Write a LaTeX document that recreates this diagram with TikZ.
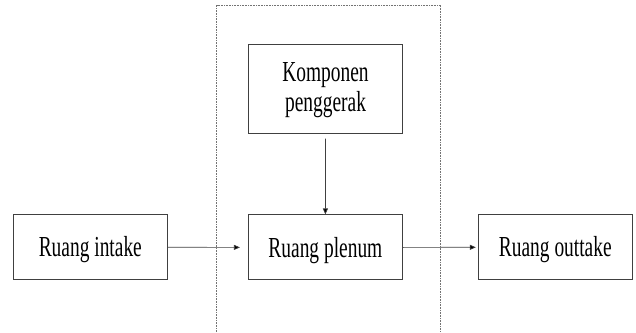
\documentclass[tikz,border=0pt]{standalone}
\usepackage{fontspec}
\newfontfamily\boxfont{Liberation Serif}[FakeStretch=0.67]
\usetikzlibrary{arrows.meta}
\begin{document}
\begin{tikzpicture}[x=1pt,y=1pt,
  stagebox/.style={draw=black!75, line width=0.9pt, rectangle, inner sep=0pt,
    minimum width=154pt, minimum height=65pt,
    font=\boxfont\fontsize{29}{30}\selectfont,
    text height=19.2pt, text depth=0pt},
  flow/.style={draw=black!75, line width=0.7pt,
    -{Triangle[length=6pt,width=5pt,fill=black]}},
  frame/.style={draw=black!55, line width=0.8pt, dash pattern=on 0.8pt off 0.8pt}]
  \useasboundingbox (0,0) rectangle (636,332);

  % dotted enclosure around the plenum stage (open at the bottom)
  \coordinate (frameBL) at (216.7,0);
  \coordinate (frameTL) at (216.7,327);
  \coordinate (frameTR) at (440.7,327);
  \coordinate (frameBR) at (440.7,0);
  \draw[frame] (frameBL) -- (frameTL) -- (frameTR) -- (frameBR);

  % stages
  \node[stagebox] (intake)  at (90.3,84.7)  {Ruang intake};
  \node[stagebox] (plenum)  at (325.4,84.6) {Ruang plenum};
  \node[stagebox] (outtake) at (555.3,84.7) {Ruang outtake};
  \node[stagebox, minimum height=89pt, align=center,
        text height=49.2pt, text depth=3.4pt]
    (drive) at (325.5,243.2) {Komponen\\penggerak};

  % connectors
  \draw[flow, shorten >=8pt] (intake.east) -- (plenum.west);
  \draw[flow, shorten >=2pt] (plenum.east) -- (outtake.west);
  \draw[flow, shorten <=5pt] (drive.south) -- (plenum.north);
\end{tikzpicture}
\end{document}
